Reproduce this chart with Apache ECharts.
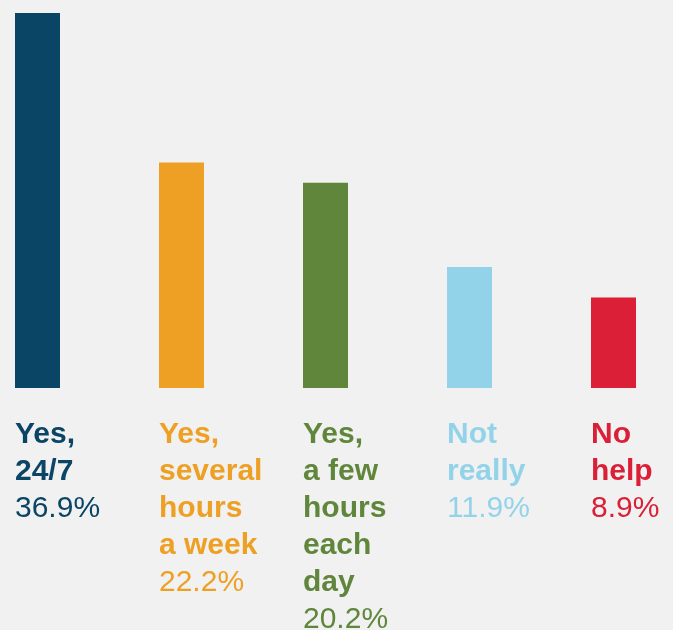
<!DOCTYPE html>
<html>
<head>
<meta charset="utf-8">
<script src="https://cdn.jsdelivr.net/npm/echarts@6/dist/echarts.min.js"></script>
<style>
  html, body { margin: 0; padding: 0; background: #f1f1f1; }
  #chart { width: 673px; height: 630px; }
</style>
</head>
<body>
<div id="chart"></div>
<script>
// Answer categories, their shares (%) and colours
var categories = ['Yes,\n24/7', 'Yes,\nseveral\nhours\na week', 'Yes,\na few\nhours\neach\nday', 'Not\nreally', 'No\nhelp'];
var shares = [36.9, 22.2, 20.2, 11.9, 8.9];
var colors = ['#0b4566', '#eea024', '#5f863b', '#93d3ea', '#da1f37'];

var chart = echarts.init(document.getElementById('chart'));

var fontFamily = 'Liberation Sans, Arial, sans-serif';

var data = shares.map(function (v, i) {
  return {
    value: v,
    itemStyle: { color: colors[i] },
    label: {
      rich: {
        b: { color: colors[i], fontWeight: 'bold', fontSize: 30, lineHeight: 37, fontFamily: fontFamily },
        n: { color: colors[i], fontWeight: 'normal', fontSize: 30, lineHeight: 37, fontFamily: fontFamily }
      }
    }
  };
});

chart.setOption({
  backgroundColor: '#f1f1f1',
  animation: false,
  // bars sit on the ticks, so the grid spans the first to the last bar centre
  grid: { left: 37.5, right: 59.5, top: 13, bottom: 242, containLabel: false },
  xAxis: {
    type: 'category',
    data: categories,
    boundaryGap: false,
    show: false
  },
  yAxis: {
    type: 'value',
    min: 0,
    max: function (e) { return e.max; },
    show: false
  },
  series: [{
    type: 'bar',
    data: data,
    barWidth: 45,
    label: {
      show: true,
      position: [0, '100%'],
      offset: [0, 28],
      align: 'left',
      verticalAlign: 'top',
      formatter: function (p) {
        return '{b|' + categories[p.dataIndex] + '}\n{n|' + shares[p.dataIndex].toFixed(1) + '%}';
      }
    }
  }]
});
</script>
</body>
</html>
